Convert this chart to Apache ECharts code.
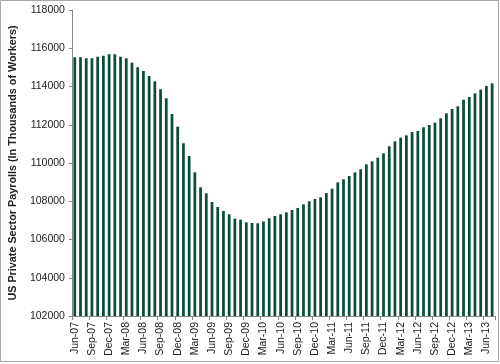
<!DOCTYPE html>
<html><head><meta charset="utf-8">
<script src="https://cdn.jsdelivr.net/npm/echarts@6/dist/echarts.min.js"></script>
<style>html,body{margin:0;padding:0;background:#fff}#c{width:500px;height:364px}</style>
</head><body><div id="c"></div>
<script>
const categories = ["Jun-07","Jul-07","Aug-07","Sep-07","Oct-07","Nov-07","Dec-07","Jan-08","Feb-08","Mar-08","Apr-08","May-08","Jun-08","Jul-08","Aug-08","Sep-08","Oct-08","Nov-08","Dec-08","Jan-09","Feb-09","Mar-09","Apr-09","May-09","Jun-09","Jul-09","Aug-09","Sep-09","Oct-09","Nov-09","Dec-09","Jan-10","Feb-10","Mar-10","Apr-10","May-10","Jun-10","Jul-10","Aug-10","Sep-10","Oct-10","Nov-10","Dec-10","Jan-11","Feb-11","Mar-11","Apr-11","May-11","Jun-11","Jul-11","Aug-11","Sep-11","Oct-11","Nov-11","Dec-11","Jan-12","Feb-12","Mar-12","Apr-12","May-12","Jun-12","Jul-12","Aug-12","Sep-12","Oct-12","Nov-12","Dec-12","Jan-13","Feb-13","Mar-13","Apr-13","May-13","Jun-13","Jul-13"];
const payrolls = [115527,115527,115475,115475,115559,115611,115684,115684,115559,115475,115245,115005,114811,114550,114272,113854,113383,112563,111899,111030,110366,109514,108730,108416,107961,107700,107490,107317,107089,107037,106898,106863,106846,106950,107107,107229,107316,107421,107543,107647,107839,107996,108118,108205,108432,108658,108989,109146,109320,109512,109669,109930,110087,110279,110505,110872,111133,111325,111447,111621,111673,111865,111987,112109,112336,112598,112824,112964,113313,113452,113644,113836,114027,114167];
const yTicks = {min:102000, max:118000, interval:2000};
const yTitle = "US Private Sector Payrolls (In Thousands of Workers)";

const chart = echarts.init(document.getElementById('c'), null, {renderer:'canvas'});
const font = "'Liberation Sans', Arial, sans-serif";
chart.setOption({
  animation:false,
  backgroundColor:'#fff',
  graphic:[{type:'rect', shape:{x:0.5,y:0.5,width:498,height:361}, style:{fill:'none', stroke:'#a6a6a6', lineWidth:1}, silent:true}],
  grid:{left:70.7, right:5, top:10, bottom:48},
  xAxis:{
    type:'category', data:categories, boundaryGap:true,
    axisLine:{lineStyle:{color:'#868686', width:1}},
    axisTick:{show:true, interval:2, length:4, lineStyle:{color:'#868686'}},
    axisLabel:{interval:2, rotate:90, fontSize:10.5, fontFamily:font, color:'#222', margin:6}
  },
  yAxis:{
    type:'value', min:yTicks.min, max:yTicks.max, interval:yTicks.interval,
    name:yTitle, nameLocation:'middle', nameGap:49,
    nameTextStyle:{fontSize:10.8, fontWeight:'bold', fontFamily:font, color:'#222'},
    axisLine:{show:true, lineStyle:{color:'#868686', width:1}},
    axisTick:{show:true, length:3, lineStyle:{color:'#868686'}},
    splitLine:{show:false},
    axisLabel:{fontSize:10.5, fontFamily:font, color:'#222', margin:7, formatter:function(v){return String(v);}}
  },
  series:[{type:'bar', data:payrolls, barWidth:'48%', itemStyle:{color:'#0B4D3A'}}]
});
</script></body></html>
